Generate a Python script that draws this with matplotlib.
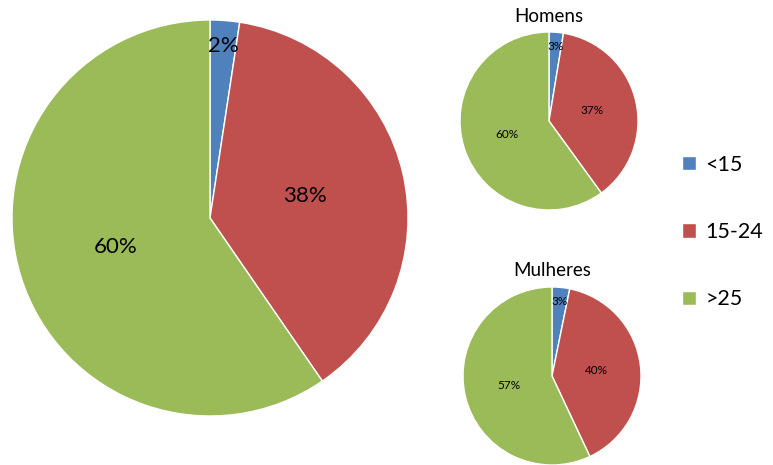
import matplotlib.pyplot as plt
from matplotlib.patches import Patch

plt.rcParams['font.family'] = ['Lato', 'DejaVu Sans']

# age groups and shares (%)
categories = ['<15', '15-24', '>25']
colors = ['#4F81BD', '#C0504D', '#9BBB59']
total_vals = [2.4, 38.0, 59.6]
homens_vals = [2.6, 37.4, 60.0]
mulheres_vals = [3.2, 39.8, 57.0]

W, H = 773, 465
fig = plt.figure(figsize=(W / 100, H / 100), dpi=100)


def px_axes(cx, cy, r):
    # axes box in pixel coordinates (origin top-left) -> figure fraction
    return fig.add_axes([(cx - r) / W, (H - cy - r) / H, 2 * r / W, 2 * r / H])


def draw_pie(ax, vals, fs, dists):
    wedges, texts, autotexts = ax.pie(
        vals, colors=colors, startangle=90, counterclock=False,
        autopct=lambda p: f'{p:.0f}%', pctdistance=0.5,
        wedgeprops=dict(edgecolor='white', linewidth=1),
        textprops=dict(fontsize=fs, color='black'))
    # move labels to their own radial distance
    for t, d in zip(autotexts, dists):
        x, y = t.get_position()
        t.set_position((x / 0.5 * d, y / 0.5 * d))
    ax.set_xlim(-1, 1)
    ax.set_ylim(-1, 1)
    ax.set_aspect('equal')
    return wedges


ax_total = px_axes(210, 218, 198)
wedges = draw_pie(ax_total, total_vals, 16, [0.87, 0.49, 0.5])

ax_h = px_axes(549, 121, 89)
draw_pie(ax_h, homens_vals, 8.5, [0.84, 0.5, 0.5])
fig.text(549 / W, 1 - 17 / H, 'Homens', ha='center', va='center', fontsize=13.5)

ax_m = px_axes(552, 376, 89)
draw_pie(ax_m, mulheres_vals, 8.5, [0.84, 0.5, 0.5])
fig.text(552 / W, 1 - 271 / H, 'Mulheres', ha='center', va='center', fontsize=13.5)

handles = [Patch(facecolor=c, edgecolor='white') for c in colors]
fig.legend(handles, categories, loc='center left',
           bbox_to_anchor=(682 / W, 1 - 232 / H), frameon=False,
           borderpad=0, borderaxespad=0,
           fontsize=15.5, handlelength=0.65, handleheight=0.65,
           handletextpad=0.45, labelspacing=2.2)

fig.savefig('out.png', dpi=100)
